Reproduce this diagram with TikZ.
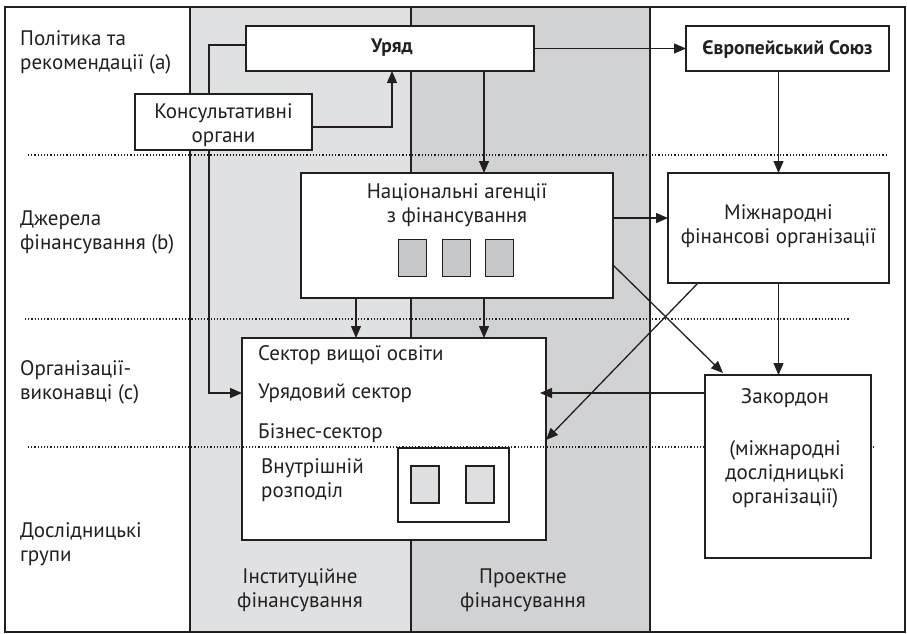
\documentclass[tikz,border=0pt]{standalone}
\usepackage{fontspec}
\setmainfont{PT Sans}
\usetikzlibrary{arrows.meta,calc}
\pgfdeclarelayer{bg}
\pgfsetlayers{bg,main}
\definecolor{ink}{RGB}{35,31,32}
\definecolor{lightg}{RGB}{224,225,227}
\definecolor{darkg}{RGB}{209,210,212}
\definecolor{sqg}{RGB}{198,199,201}
\definecolor{sqlight}{RGB}{222,223,225}
\begin{document}
\begin{tikzpicture}[x=1pt,y=-1pt,
  font=\fontsize{21}{24}\selectfont,
  box/.style={draw=ink, line width=1.6pt, fill=white, inner sep=0pt, outer sep=0pt},
  sq/.style={draw=ink, line width=1.6pt, inner sep=0pt, outer sep=0pt, minimum width=28pt, minimum height=37pt},
  lbl/.style={text=ink, inner sep=0pt, align=center},
  lbll/.style={text=ink, inner sep=0pt, align=left, anchor=west},
  boldlbl/.style={lbl, font=\fontsize{19.5}{24}\selectfont\bfseries},
  arr/.style={draw=ink, line width=1.3pt, -{Triangle[length=12pt,width=10pt]}},
  dots/.style={draw=ink, line width=1.2pt, dash pattern=on 1.2pt off 2pt},
  col/.style={draw=ink, line width=2.6pt}]
\useasboundingbox (0,0) rectangle (907,633);

% coordinates
\coordinate (c2) at (484,0);
\coordinate (c3) at (392,0);
\coordinate (c4) at (209,393);
\coordinate (c6) at (0,218);
\coordinate (c7a) at (356,0);
\coordinate (c8) at (0,265);
\coordinate (c9) at (0,440);

% left labels
\node[lbll] (la) at (20,52) {Політика та\\рекомендації (a)};
\node[lbll] (lb) at (20,232) {Джерела\\фінансування (b)};
\node[lbll] (lc) at (20,382) {Організації-\\виконавці (c)};
\node[lbll] (ld) at (20,544) {Дослідницькі\\групи};

% boxes
\node[box, minimum width=288pt, minimum height=45pt] (ur) at (390,48.5) {};
\node[boldlbl] (urt) at (392,48) {Уряд};
\node[box, minimum width=177pt, minimum height=56pt] (kons) at (223.5,122) {};
\node[lbl] (konst) at (223.5,125) {Консультативні\\органи};
\node[box, minimum width=203pt, minimum height=45pt] (eu) at (787.5,48.5) {};
\node[boldlbl] (eut) at (787.5,49) {Європейський Союз};
\node[box, minimum width=312pt, minimum height=125pt] (nat) at (457,235.5) {};
\node[lbl] (natt) at (457,205) {Національні агенції\\з фінансування};
\node[sq, fill=sqg] (n1) at (412.5,258) {};
\node[sq, fill=sqg] (n2) at (456.5,258) {};
\node[sq, fill=sqg] (n3) at (499.5,258) {};
\node[box, minimum width=221pt, minimum height=110pt] (intl) at (778.5,228) {};
\node[lbl] (intlt) at (778.5,226) {Міжнародні\\фінансові організації};
\node[box, minimum width=304pt, minimum height=202pt] (sec) at (394,439) {};
\node[lbll] (s1) at (258,355) {Сектор вищої освіти};
\node[lbll] (s2) at (258,393) {Урядовий сектор};
\node[lbll] (s3) at (258,433) {Бізнес-сектор};
\node[lbll] (s4) at (261,480) {Внутрішній\\розподіл};
\draw[dots] (28,447) -- (873,447);
\node[box, minimum width=111pt, minimum height=74pt] (inner) at (453.5,485) {};
\node[sq, fill=sqlight] (i1) at (425,484.5) {};
\node[sq, fill=sqlight] (i2) at (480,484.5) {};
\node[box, minimum width=166pt, minimum height=183pt] (zak) at (788,466.5) {};
\node[lbl] (zakt) at (785,398) {Закордон};
\node[lbl] (zakt2) at (785,474) {(міжнародні\\дослідницькі\\організації)};

% bottom labels
\node[lbl] (bi) at (300,590) {Інституційне\\фінансування};
\node[lbl] (bp) at (523,590) {Проектне\\фінансування};

% background layer
\begin{pgfonlayer}{bg}
  \fill[lightg] (190,7) rectangle (411,632);
  \fill[darkg] (411,7) rectangle (650,632);
  \draw[dots] (28,155) -- (888,155);
  \draw[dots] (25,319) -- (850,319);
  \draw[col] (190,7) -- (190,632);
  \draw[col, line width=2pt] (411,7) -- (411,632);
  \draw[col] (650,7) -- (650,632);
  \draw[arr] ([yshift=3.5pt]ur.west) -| (c4) -- (sec.west |- c4);
\end{pgfonlayer}

% frame
\draw[ink, line width=2.2pt] (5,7) rectangle (905,632);

% connectors
\draw[arr] (ur.east) -- (eu.west);
\draw[arr] (ur.south -| c2) -- (nat.north -| c2);
\draw[arr] ([yshift=-5pt]kons.east) -| (ur.south -| c3);
\draw[arr] (intl.north |- eu.south) -- (intl.north);
\draw[arr] (nat.east |- c6) -- (intl.west |- c6);
\draw[arr] (nat.south -| c7a) -- (sec.north -| c7a);
\draw[arr] (nat.south -| c2) -- (sec.north -| c2);
\draw[arr] (nat.east |- c8) -- ([xshift=18pt,yshift=2pt]zak.north west);
\draw[arr] ([xshift=30pt]intl.south west) -- (sec.east |- c9);
\draw[arr] (intl.south) -- (intl.south |- zak.north);
\draw[arr] (zak.west |- c4) -- ([xshift=-6pt]sec.east |- c4);
\end{tikzpicture}
\end{document}
